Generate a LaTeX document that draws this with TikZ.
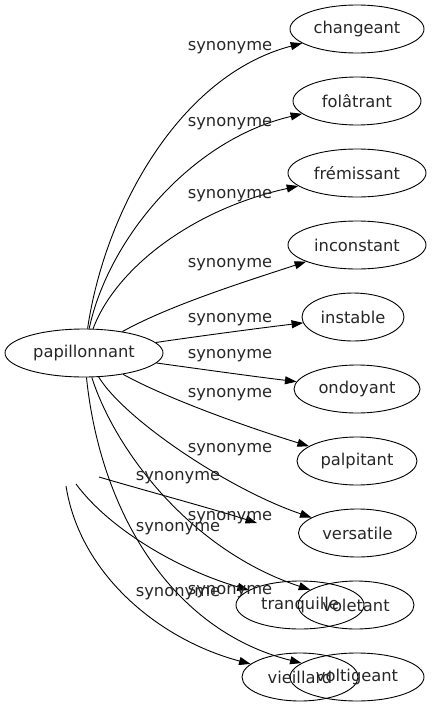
\documentclass[tikz,border=0pt]{standalone}
\usepackage{fontspec}
\setmainfont{DejaVu Sans}
\usetikzlibrary{shapes.geometric,arrows.meta}
\begin{document}
\begin{tikzpicture}[x=1pt,y=-1pt,
  every node/.style={font=\fontsize{16.3}{19}\selectfont, text=black!85},
  word/.style={draw, ellipse, inner sep=0pt, minimum height=48pt, line width=0.9pt},
  lbl/.style={inner sep=0pt},
  syn/.style={-{Triangle[length=11.5pt,width=8pt]}, line width=0.9pt}]
\useasboundingbox (0,0) rectangle (432,707);
% nodes
\node[word, minimum width=158pt] (pap) at (84,353) {papillonnant};
\node[word, minimum width=134pt] (changeant) at (357,29) {changeant};
\node[word, minimum width=128pt] (folatrant) at (357,101) {folâtrant};
\node[word, minimum width=138pt] (fremissant) at (357,173) {frémissant};
\node[word, minimum width=138pt] (inconstant) at (357,245) {inconstant};
\node[word, minimum width=102pt] (instable) at (353,317) {instable};
\node[word, minimum width=126pt] (ondoyant) at (357,389) {ondoyant};
\node[word, minimum width=120pt] (palpitant) at (357,461) {palpitant};
\node[word, minimum width=118pt] (versatile) at (357.5,533) {versatile};
\node[word, minimum width=128pt] (tranquille) at (300,605) {tranquille};
\node[word, minimum width=116pt] (voletant) at (356,605) {voletant};
\node[word, minimum width=116pt] (vieillard) at (300,677) {vieillard};
\node[word, minimum width=134pt] (voltigeant) at (357,677) {voltigeant};
% free ends
\coordinate (fa) at (99,477);
\coordinate (fb) at (257,523);
\coordinate (fc) at (76,484);
\coordinate (fd) at (66,486);
% edges
\draw[syn] (pap) .. controls (105,210) and (180,75) .. (changeant);
\draw[syn] (pap) .. controls (108,240) and (190,140) .. (folatrant);
\draw[syn] (pap) .. controls (115,270) and (190,210) .. (fremissant);
\draw[syn] (pap) .. controls (170,305) and (250,280) .. (inconstant);
\draw[syn] (pap) .. controls (200,336) and (260,328) .. (instable);
\draw[syn] (pap) .. controls (200,369) and (250,376) .. (ondoyant);
\draw[syn] (pap) .. controls (170,400) and (250,428) .. (palpitant);
\draw[syn] (pap) .. controls (125,420) and (230,490) .. (versatile);
\draw[syn] (pap) .. controls (115,450) and (190,550) .. (voletant);
\draw[syn] (pap) .. controls (100,510) and (170,630) .. (voltigeant);
\draw[syn] (fa) .. controls (150,492) and (210,508) .. (fb);
\draw[syn] (fc) .. controls (110,530) and (180,570) .. (tranquille);
\draw[syn] (fd) .. controls (80,575) and (160,640) .. (vieillard);
% labels
\node[lbl] (l1) at (230,48) {synonyme};
\node[lbl] (l2) at (230,124) {synonyme};
\node[lbl] (l3) at (230,196) {synonyme};
\node[lbl] (l4) at (230,265) {synonyme};
\node[lbl] (l5) at (230,320) {synonyme};
\node[lbl] (l6) at (230,356) {synonyme};
\node[lbl] (l7) at (230,395) {synonyme};
\node[lbl] (l8) at (230,450) {synonyme};
\node[lbl] (l9) at (178,478) {synonyme};
\node[lbl] (l10) at (230,518) {synonyme};
\node[lbl] (l11) at (178,529) {synonyme};
\node[lbl] (l12) at (230,592) {synonyme};
\node[lbl] (l13) at (178,594) {synonyme};
\end{tikzpicture}
\end{document}
